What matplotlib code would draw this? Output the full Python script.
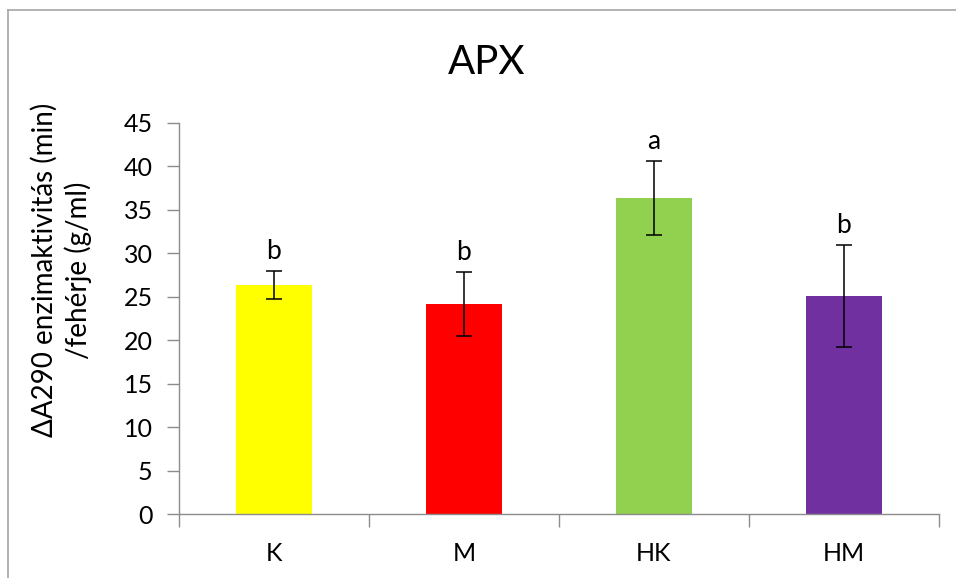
import matplotlib.pyplot as plt
from matplotlib.lines import Line2D

# APX enzyme activity per treatment group
groups = ['K', 'M', 'HK', 'HM']
means = [26.35, 24.17, 36.36, 25.09]
errors = [1.6, 3.7, 4.28, 5.86]
letters = ['b', 'b', 'a', 'b']
colors = ['#FFFF00', '#FF0000', '#92D050', '#7030A0']

plt.rcParams['font.family'] = ['Lato', 'DejaVu Sans']
axis_gray = '#8C8C8C'

fig = plt.figure(figsize=(9.56, 5.78), dpi=100)
ax = fig.add_axes([179 / 956, 1 - 514.3 / 578, 760 / 956, 391.6 / 578])

x = list(range(len(groups)))
ax.bar(x, means, width=0.4, color=colors, zorder=2)
ax.errorbar(x, means, yerr=errors, fmt='none', ecolor='black',
            elinewidth=1.1, capsize=6, capthick=1.1, zorder=3)

for pos, mean, err, letter in zip(x, means, errors, letters):
    ax.annotate(letter, (pos, mean + err), xytext=(0, 5),
                textcoords='offset points', ha='center', va='bottom',
                fontsize=19)

ax.set_xlim(-0.5, len(groups) - 0.5)
ax.set_ylim(0, 45)
ax.set_yticks(range(0, 46, 5))

# category labels sit between the boundary tick marks
ax.set_xticks(x)
ax.set_xticklabels(groups, fontsize=18)
ax.set_xticks([p - 0.5 for p in range(len(groups) + 1)], minor=True)
ax.tick_params(axis='x', which='major', length=0, pad=20)
ax.tick_params(axis='x', which='minor', length=9, width=1, color=axis_gray,
               direction='out')
ax.tick_params(axis='y', length=9, width=1, color=axis_gray, direction='out',
               labelsize=18, pad=10)

for side in ['top', 'right']:
    ax.spines[side].set_visible(False)
for side in ['left', 'bottom']:
    ax.spines[side].set_color(axis_gray)
    ax.spines[side].set_linewidth(1)

fig.text(487 / 956, 1 - 62 / 578, 'APX', ha='center', va='center',
         fontsize=29)
fig.text(61 / 956, 1 - 270 / 578,
         'ΔA290 enzimaktivitás (min)\n/fehérje (g/ml)',
         rotation=90, ha='center', va='center', ma='center', fontsize=20,
         linespacing=1.3)

# chart area frame
fig.add_artist(Line2D([8 / 956, 8 / 956], [0, 1 - 10 / 578],
                      color='#A6A6A6', lw=1.2, transform=fig.transFigure))
fig.add_artist(Line2D([8 / 956, 1], [1 - 10 / 578, 1 - 10 / 578],
                      color='#A6A6A6', lw=1.2, transform=fig.transFigure))

fig.savefig('out.png', dpi=100)
